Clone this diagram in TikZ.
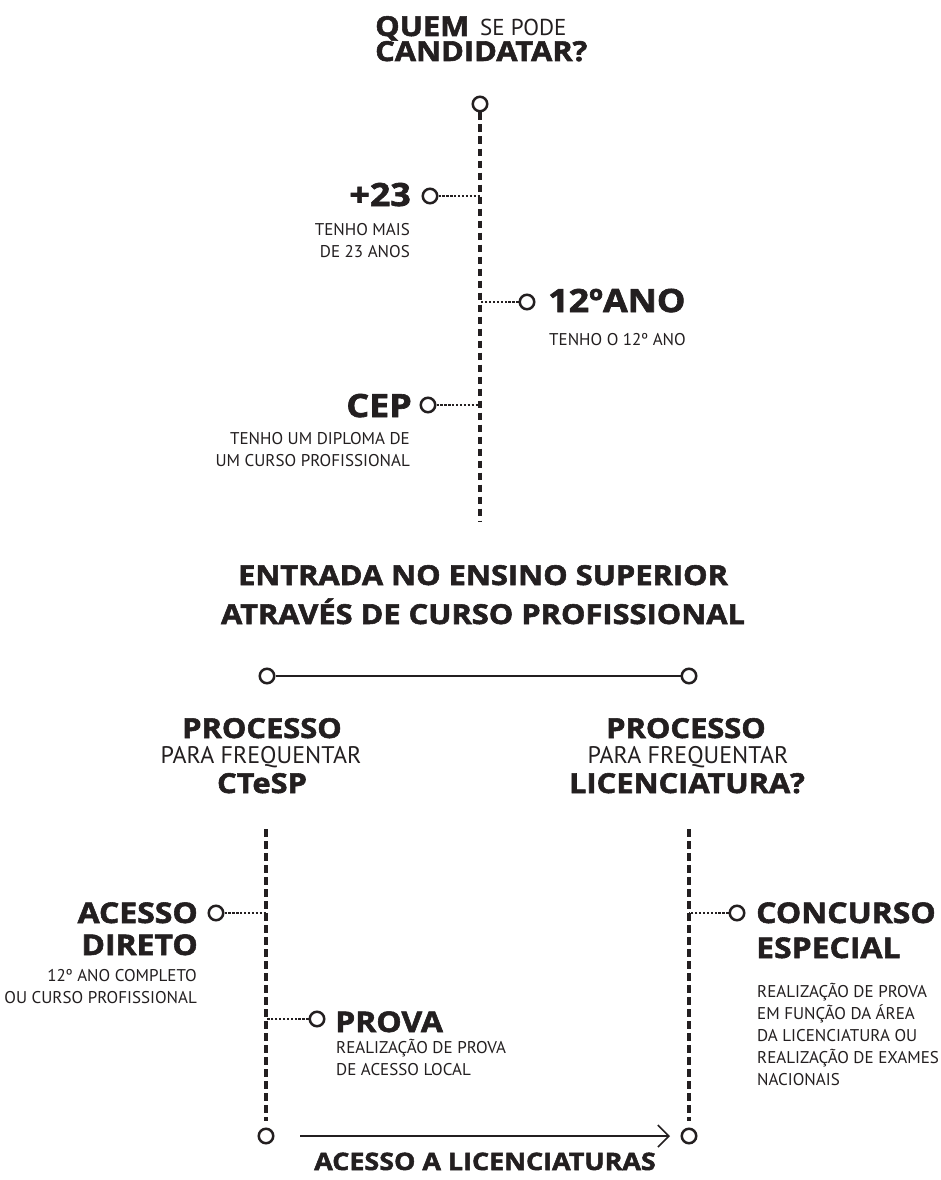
\documentclass[tikz,border=0pt]{standalone}
\usepackage{fontspec}
\setmainfont{PT Sans}
\newfontfamily\heavyfam{Open Sans}[BoldFeatures={FakeBold=2,FakeStretch=1.12}]
\newcommand\heavy{\heavyfam\bfseries}
\usetikzlibrary{arrows.meta}
\definecolor{ink}{HTML}{231F20}
\begin{document}
\begin{tikzpicture}[x=1pt,y=-1pt,
  dot/.style={circle,draw=ink,line width=2.5pt,minimum size=14.5pt,inner sep=0pt},
  spine/.style={draw=ink,line width=3.4pt,dash pattern=on 7.5pt off 4.5pt},
  tick/.style={draw=ink,line width=2.8pt,dash pattern=on 2.3pt off 1.6pt},
  link/.style={draw=ink,line width=1.6pt},
  ttl/.style={font=\heavy\fontsize{27.5}{27.5}\selectfont,text=ink,inner sep=0pt},
  proc/.style={font=\heavy\fontsize{27.5}{27.5}\selectfont,text=ink,inner sep=0pt},
  foot/.style={font=\heavy\fontsize{24}{24}\selectfont,text=ink,inner sep=0pt},
  toplab/.style={font=\heavy\fontsize{32}{32}\selectfont,text=ink,inner sep=0pt},
  biglab/.style={font=\heavy\fontsize{28.5}{28.5}\selectfont,text=ink,inner sep=0pt},
  midtxt/.style={font=\fontsize{24}{24}\selectfont,text=ink,inner sep=0pt},
  note/.style={font=\fontsize{17}{22}\selectfont,text=ink,inner sep=0pt},
]
\useasboundingbox[fill=white] (0,0) rectangle (940,1180);

% title
\node[ttl,anchor=base west] (quem) at (375,36) {QUEM};
\node[font=\fontsize{23}{23}\selectfont,text=ink,inner sep=0pt,anchor=base west] (sepode) at (480,36) {SE PODE};
\node[ttl,anchor=base west] (cand) at (375,61) {CANDIDATAR?};

% top spine
\node[dot] (c0) at (480,104) {};
\coordinate (s0) at (480,522);
\draw[spine] (c0.south) -- (s0);

% +23
\node[dot] (c1) at (430,196) {};
\draw[tick] (c1.east) -- (c1.east -| s0);
\node[toplab,anchor=base east] (l1) at (411,206) {+23};
\node[note,anchor=north east,align=right] (n1) at (410,221) {\vphantom{Ã}TENHO MAIS\\DE 23 ANOS};

% 12 ano
\node[dot] (c2) at (527,302) {};
\draw[tick] (c2.west) -- (c2.west -| s0);
\node[toplab,anchor=base west] (l2) at (548,312) {12ºANO};
\node[note,anchor=base west] (n2) at (549,345) {TENHO O 12º ANO};

% CEP
\node[dot] (c3) at (428,405) {};
\draw[tick] (c3.east) -- (c3.east -| s0);
\node[toplab,anchor=base east] (l3) at (412,417) {CEP};
\node[note,anchor=north east,align=right] (n3) at (410,430) {\vphantom{Ã}TENHO UM DIPLOMA DE\\UM CURSO PROFISSIONAL};

% middle title
\node[ttl,anchor=base] (ent1) at (483,585) {ENTRADA NO ENSINO SUPERIOR};
\node[ttl,anchor=base] (ent2) at (483,624) {ATRAVÉS DE CURSO PROFISSIONAL};

\node[dot] (h1) at (267,676) {};
\node[dot] (h2) at (689,676) {};
\draw[link] (h1) -- (h2);

% left process
\node[proc,anchor=base] (pl1) at (262,738) {PROCESSO};
\node[midtxt,anchor=base] (pl2) at (261,763) {PARA FREQUENTAR};
\node[proc,anchor=base] (pl3) at (262,793) {CTeSP};
% right process
\node[proc,anchor=base] (pr1) at (686,738) {PROCESSO};
\node[midtxt,anchor=base] (pr2) at (688,763) {PARA FREQUENTAR};
\node[proc,anchor=base] (pr3) at (687,793) {LICENCIATURA?};

% left spine
\coordinate (ls0) at (266,829);
\coordinate (ls1) at (266,1121);
\draw[spine] (ls0) -- (ls1);
\node[dot] (lb) at (266,1136) {};

% right spine
\coordinate (rs0) at (689,829);
\coordinate (rs1) at (689,1121);
\draw[spine] (rs0) -- (rs1);
\node[dot] (rb) at (689,1136) {};

% acesso direto
\node[dot] (c4) at (216,913) {};
\draw[tick] (c4.east) -- (c4.east -| ls0);
\node[biglab,anchor=base east] (l4a) at (198,923) {ACESSO};
\node[biglab,anchor=base east] (l4b) at (198,955) {DIRETO};
\node[note,anchor=north east,align=right] (n4) at (197,967) {\vphantom{Ã}12º ANO COMPLETO\\OU CURSO PROFISSIONAL};

% prova
\node[dot] (c5) at (317,1019) {};
\draw[tick] (c5.west) -- (c5.west -| ls0);
\node[biglab,anchor=base west] (l5) at (335,1032) {PROVA};
\node[note,anchor=north west,align=left] (n5) at (336,1039) {\vphantom{Ã}REALIZAÇÃO DE PROVA\\DE ACESSO LOCAL};

% concurso especial
\node[dot] (c6) at (737,913) {};
\draw[tick] (c6.west) -- (c6.west -| rs0);
\node[biglab,anchor=base west] (l6a) at (756,923) {CONCURSO};
\node[biglab,anchor=base west] (l6b) at (756,958) {ESPECIAL};
\node[note,anchor=north west,align=left] (n6) at (757,983) {\vphantom{Ã}REALIZAÇÃO DE PROVA\\EM FUNÇÃO DA ÁREA\\DA LICENCIATURA OU\\REALIZAÇÃO DE EXAMES\\NACIONAIS};

% bottom arrow
\coordinate (a0) at (300,1136);
\coordinate (a1) at (670,1136);
\draw[link,-{Straight Barb[length=11pt,width=22pt,line width=1.6pt]}] (a0) -- (a1);
\node[foot,anchor=base] (acl) at (485,1170) {ACESSO A LICENCIATURAS};
\end{tikzpicture}
\end{document}
